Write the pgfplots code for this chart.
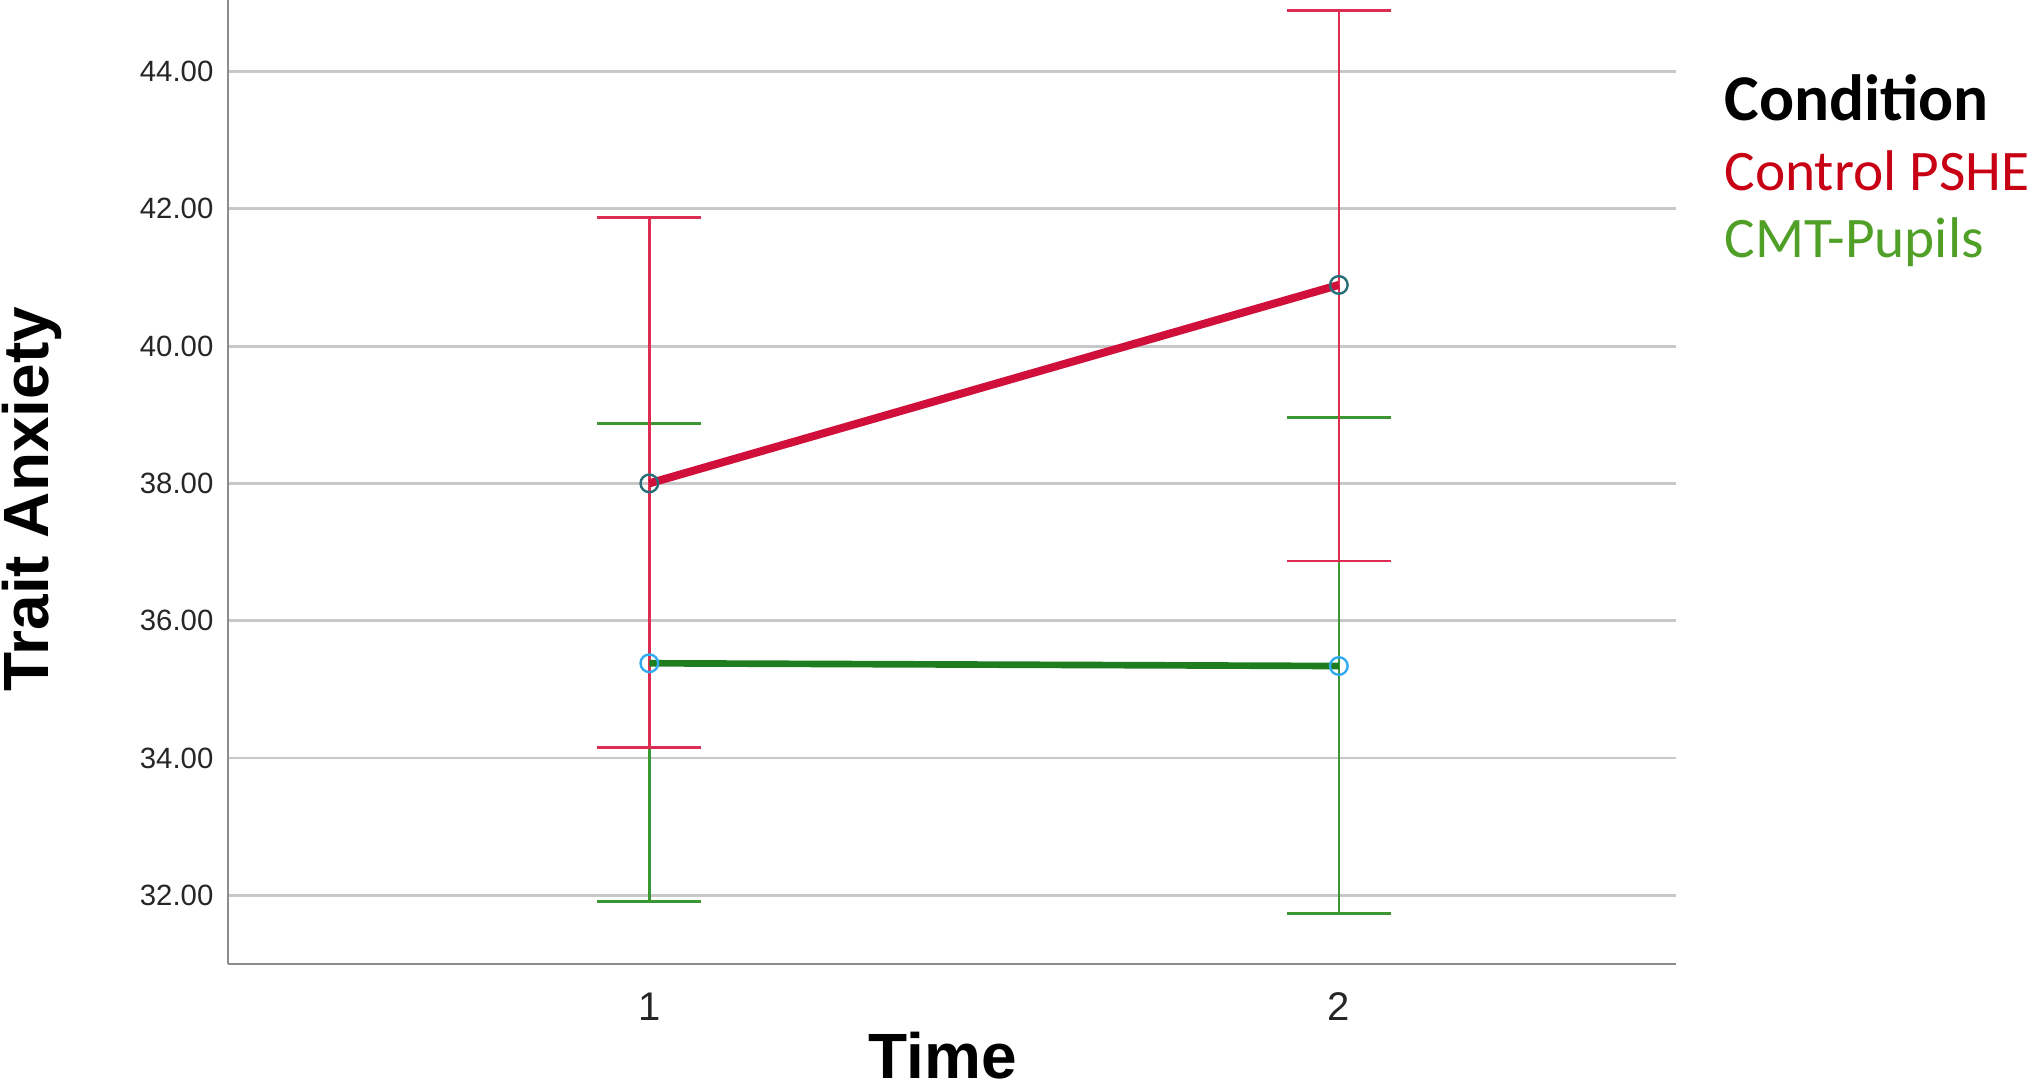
\documentclass[border=0pt]{standalone}
\usepackage{pgfplots}
\pgfplotsset{compat=1.18}
\usepackage{fontspec}
\setmainfont{Liberation Sans}
\newfontfamily\calibri{Carlito}

\definecolor{ctlline}{RGB}{208,16,58}
\definecolor{ctlbar}{RGB}{222,45,85}
\definecolor{ctltext}{RGB}{200,0,20}
\definecolor{ctlmark}{RGB}{40,110,120}
\definecolor{cmtline}{RGB}{30,125,30}
\definecolor{cmtbar}{RGB}{60,150,50}
\definecolor{cmttext}{RGB}{80,160,40}
\definecolor{cmtmark}{RGB}{50,170,240}
\definecolor{gridgray}{RGB}{200,200,200}
\definecolor{axisgray}{RGB}{140,140,140}

% time, mean, upper-mean, mean-lower
\pgfplotstableread{
x y ep em
1 38.00 3.87 3.85
2 40.89 4.00 4.02
}\controldata
\pgfplotstableread{
x y ep em
1 35.38 3.49 3.47
2 35.34 3.62 3.60
}\cmtdata

\begin{document}
\begin{tikzpicture}
\begin{axis}[
    scale only axis,
    width=543pt, height=361.5pt,
    xmin=0.389, xmax=2.489,
    ymin=31, ymax=45.04,
    axis x line=bottom, axis y line=left,
    axis line style={draw=axisgray, line width=1.1pt, -},
    xtick={1,2}, xticklabels={1,2},
    ytick={32,34,36,38,40,42,44},
    major tick length=0pt,
    ymajorgrids=true,
    grid style={draw=gridgray, line width=1.1pt},
    /pgf/number format/.cd, fixed, fixed zerofill, precision=2, assume math mode=true,
    /pgfplots/.cd,
    yticklabel style={font=\fontsize{11}{13}\selectfont, anchor=east, inner sep=0pt, xshift=-5.3pt, text=black!85},
    xticklabel style={font=\fontsize{15}{17}\selectfont, anchor=north, inner sep=0pt, yshift=-10.5pt, text=black!85},
    xlabel={\textbf{Time}},
    ylabel={\textbf{Trait Anxiety}},
    xlabel style={font=\fontsize{24}{28}\selectfont, at={(axis description cs:0.4938,-0.1185)}, anchor=base, inner sep=0pt},
    ylabel style={font=\fontsize{24}{28}\selectfont, at={(axis description cs:-0.1243,0.4824)}, anchor=base, inner sep=0pt},
    clip=false,
]
% error bars, green under red
\addplot[draw=none, mark=none, forget plot,
    error bars/.cd, y dir=both, y explicit,
    error bar style={draw=cmtbar, line width=1pt},
    error mark options={draw=cmtbar, rotate=90, mark size=19.5pt, line width=1pt}]
    table[x=x, y=y, y error plus=ep, y error minus=em] {\cmtdata};
\addplot[draw=none, mark=none, forget plot,
    error bars/.cd, y dir=both, y explicit,
    error bar style={draw=ctlbar, line width=1pt},
    error mark options={draw=ctlbar, rotate=90, mark size=19.5pt, line width=1pt}]
    table[x=x, y=y, y error plus=ep, y error minus=em] {\controldata};
% means
\addplot[draw=cmtline, line width=2.5pt, mark=o, mark size=3.3pt,
    mark options={draw=cmtmark, fill=none, line width=0.9pt}]
    table[x=x, y=y] {\cmtdata};
\addplot[draw=ctlline, line width=3pt, mark=o, mark size=3.3pt,
    mark options={draw=ctlmark, fill=none, line width=0.9pt}]
    table[x=x, y=y] {\controldata};

\node[anchor=base west, inner sep=0pt, font=\calibri\bfseries\fontsize{24.5}{29}\selectfont]
    at (axis description cs:1.0331,0.875) {Condition};
\node[anchor=base west, inner sep=0pt, font=\calibri\fontsize{21.5}{26}\selectfont, text=ctltext]
    at (axis description cs:1.0331,0.8022) {Control PSHE};
\node[anchor=base west, inner sep=0pt, font=\calibri\fontsize{21.5}{26}\selectfont, text=cmttext]
    at (axis description cs:1.0331,0.7324) {CMT-Pupils};
\end{axis}
\pgfresetboundingbox
\path[use as bounding box] (-85.5pt,-46.5pt) rectangle (676.5pt,361.5pt);
\end{tikzpicture}
\end{document}
